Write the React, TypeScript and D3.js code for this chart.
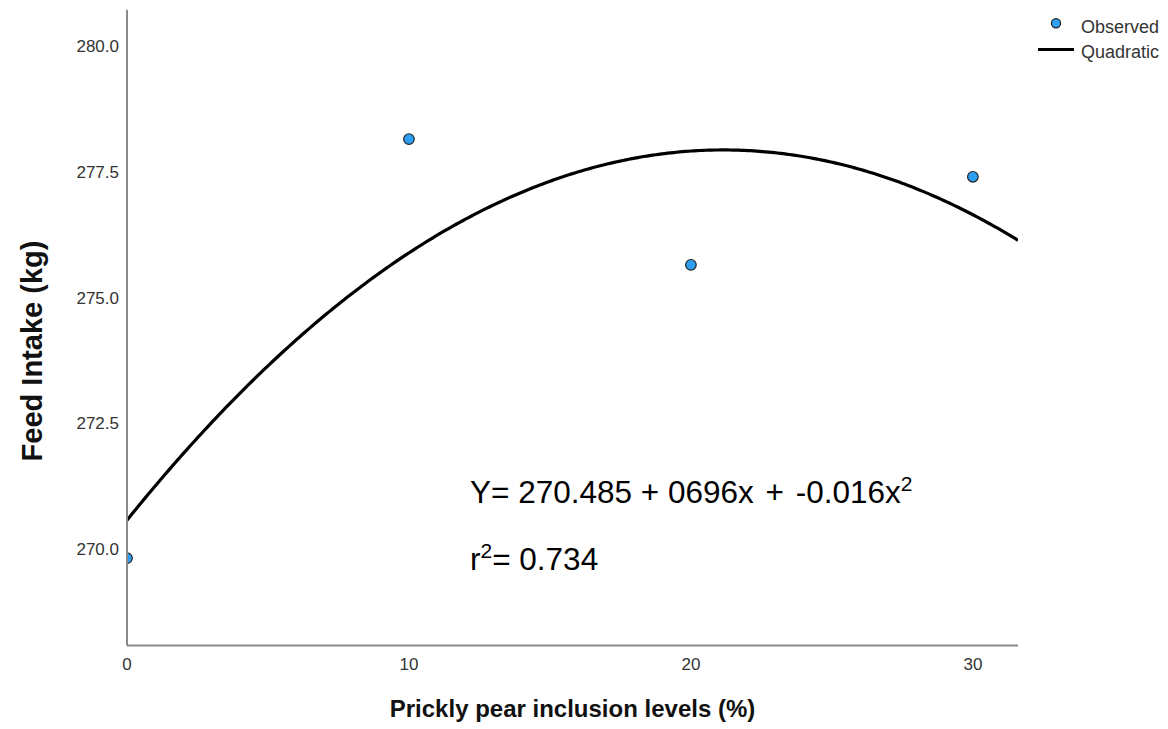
import React from "react";
import * as d3 from "d3";

// Prickly pear inclusion level (%) and observed feed intake (kg)
const inclusionLevels = [0, 10, 20, 30];
const feedIntake = [269.82, 278.15, 275.65, 277.4];

const xTicks = [0, 10, 20, 30];
const yTicks = [270.0, 272.5, 275.0, 277.5, 280.0];

const xDomain: [number, number] = [0, 31.6];
const yDomain: [number, number] = [268.08, 280.72];

const equationText = ["Y= 270.485 + 0696x", " + -0.016x", "2"];
const rSquaredText = ["r", "2", "= 0.734"];

// Least-squares quadratic fit y = b0 + b1 x + b2 x^2 via normal equations
function fitQuadratic(xs: number[], ys: number[]): [number, number, number] {
  const s = (p: number) => d3.sum(xs, (x) => Math.pow(x, p));
  const t = (p: number) => d3.sum(xs, (x, i) => Math.pow(x, p) * ys[i]);
  const A = [
    [s(0), s(1), s(2), t(0)],
    [s(1), s(2), s(3), t(1)],
    [s(2), s(3), s(4), t(2)],
  ];
  for (let c = 0; c < 3; c++) {
    let piv = c;
    for (let r = c + 1; r < 3; r++) if (Math.abs(A[r][c]) > Math.abs(A[piv][c])) piv = r;
    [A[c], A[piv]] = [A[piv], A[c]];
    for (let r = 0; r < 3; r++) {
      if (r === c) continue;
      const f = A[r][c] / A[c][c];
      for (let k = c; k < 4; k++) A[r][k] -= f * A[c][k];
    }
  }
  return [A[0][3] / A[0][0], A[1][3] / A[1][1], A[2][3] / A[2][2]];
}

export default function App() {
  const W = 1168;
  const H = 729;
  const left = 127;
  const right = 1018;
  const top = 9.8;
  const bottom = 645.6;

  const x = d3.scaleLinear().domain(xDomain).range([left, right]);
  const y = d3.scaleLinear().domain(yDomain).range([bottom, top]);

  const [b0, b1, b2] = fitQuadratic(inclusionLevels, feedIntake);
  const curvePts = d3.range(0, 301).map((i) => {
    const xv = xDomain[0] + ((xDomain[1] - xDomain[0]) * i) / 300;
    return [xv, b0 + b1 * xv + b2 * xv * xv] as [number, number];
  });
  const line = d3
    .line<[number, number]>()
    .x((d) => x(d[0]))
    .y((d) => y(d[1]));

  const tickFont = "'Liberation Sans', Arial, sans-serif";
  const axisColor = "#8a8a8a";
  const pointFill = "#2e9ff0";
  const pointStroke = "#222";

  return (
    <svg
      width={W}
      height={H}
      style={{ position: "absolute", left: 0, top: 0, background: "#fff" }}
      fontFamily={tickFont}
    >
      <defs>
        <clipPath id="plot-area">
          <rect x={left} y={top} width={right - left} height={bottom - top} />
        </clipPath>
      </defs>

      {/* fitted quadratic */}
      <path
        d={line(curvePts) || ""}
        fill="none"
        stroke="#000"
        strokeWidth={3.2}
        clipPath="url(#plot-area)"
      />

      {/* observed points */}
      <g clipPath="url(#plot-area)">
        {inclusionLevels.map((lv, i) => (
          <circle
            key={i}
            cx={x(lv)}
            cy={y(feedIntake[i])}
            r={5.3}
            fill={pointFill}
            stroke={pointStroke}
            strokeWidth={1.2}
          />
        ))}
      </g>

      {/* axes */}
      <line x1={left} x2={left} y1={top} y2={bottom} stroke={axisColor} strokeWidth={2} />
      <line x1={left} x2={right} y1={bottom} y2={bottom} stroke={axisColor} strokeWidth={2} />

      {yTicks.map((v) => (
        <text
          key={v}
          x={119}
          y={y(v) + 6}
          textAnchor="end"
          fontSize={17}
          fill="#333"
        >
          {v.toFixed(1)}
        </text>
      ))}
      {xTicks.map((v) => (
        <text key={v} x={x(v)} y={670} textAnchor="middle" fontSize={17} fill="#333">
          {v}
        </text>
      ))}

      {/* axis titles */}
      <text
        x={(left + right) / 2}
        y={717}
        textAnchor="middle"
        fontSize={24}
        fontWeight="bold"
        fill="#111"
      >
        Prickly pear inclusion levels (%)
      </text>
      <text
        transform={`translate(42, 351) rotate(-90)`}
        textAnchor="middle"
        fontSize={29}
        fontWeight="bold"
        fill="#111"
      >
        Feed Intake (kg)
      </text>

      {/* equation annotation */}
      <text x={470} y={503} fontSize={31.5} fill="#000">
        {equationText[0]}
        <tspan wordSpacing={3}>{equationText[1]}</tspan>
        <tspan fontSize={21} dy={-12}>
          {equationText[2]}
        </tspan>
      </text>
      <text x={470} y={570} fontSize={31.5} fill="#000">
        {rSquaredText[0]}
        <tspan fontSize={21} dy={-12}>
          {rSquaredText[1]}
        </tspan>
        <tspan dy={12}>{rSquaredText[2]}</tspan>
      </text>

      {/* legend */}
      <circle cx={1056} cy={23.3} r={4.6} fill={pointFill} stroke={pointStroke} strokeWidth={1.2} />
      <text x={1081} y={33} fontSize={18} fill="#333">
        Observed
      </text>
      <line x1={1038} x2={1074} y1={49.5} y2={49.5} stroke="#000" strokeWidth={3.2} />
      <text x={1081} y={58} fontSize={18} fill="#333">
        Quadratic
      </text>
    </svg>
  );
}
